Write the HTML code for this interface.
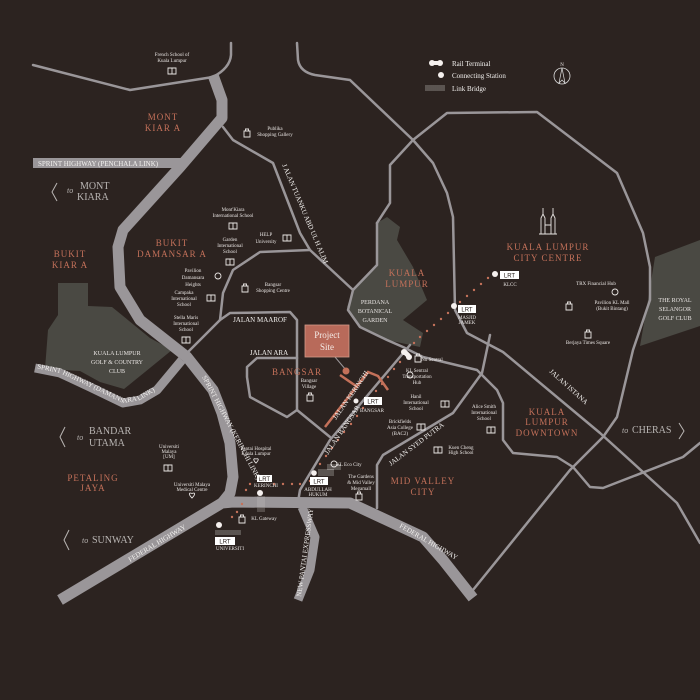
<!DOCTYPE html>
<html><head><meta charset="utf-8"><style>
html,body{margin:0;padding:0;background:#2c2320;}
svg{display:block}
.s{font-family:"Liberation Serif",serif;fill:#e8e4e2;font-size:5px;text-anchor:middle}
.o{font-family:"Liberation Serif",serif;fill:#c4715a;font-size:9px;letter-spacing:1px;text-anchor:middle}
.w{font-family:"Liberation Serif",serif;fill:#f2f0ee;font-size:7px}
.g{font-family:"Liberation Serif",serif;fill:#b9b5b3;font-size:10px}
.r{fill:none;stroke:#9a9699;stroke-width:2.5;stroke-linejoin:round;stroke-linecap:round}
.h{fill:none;stroke:#9a9699;stroke-linejoin:round}
.ic{fill:none;stroke:#e8e4e2;stroke-width:0.9}
.dot{fill:#c4715a}
</style></head><body>
<svg width="700" height="700" viewBox="0 0 700 700" xmlns="http://www.w3.org/2000/svg">
<rect width="700" height="700" fill="#2c2320"/>
<polygon points="58,283 88,283 88,306 112,307 150,338 172,350 145,372 124,389 100,382 80,371 45,369 48,330 58,315" fill="#4a4943"/>
<polygon points="387,217 400,227 397,240 413,267 427,300 403,320 423,333 420,347 387,340 360,327 347,307 353,290 377,267 377,223" fill="#4a4943"/>
<polygon points="655,257 700,240 700,326 640,346 648,300" fill="#4a4943"/>
<path class="r" d="M33,65 L130,90 L213,77 Q230,68 231,55 L231,43"/>
<path class="r" d="M297,43 L298,60 Q300,72 315,75 L350,80 L413,140 L433,163 L447,193 L453,217 L455,310 L467,333 L503,352 L600,433 L677,503 L700,543"/>
<path class="r" d="M223,127 L233,140 L273,163 L300,233 L310,250 L353,290"/>
<path class="r" d="M377,223 L390,203 L390,165 L413,140 L447,113 L537,112 L617,173 L643,233 L650,267 L650,300 L633,350 L617,417 L603,437 L570,470 L473,590"/>
<path class="r" d="M377,223 L377,265 L353,290 L348,310 L360,327 L387,340 L403,347 L423,357 L477,370 L497,390 L503,403 L503,440 L513,453 L557,457 L573,467 L590,487 L603,488 L683,457 L700,443"/>
<path class="r" d="M310,250 L260,252 L233,270 L223,293 L220,320"/>
<path class="r" d="M185,355 L220,320 L230,313 L290,312 L297,320 L297,410"/>
<path class="r" d="M247,377 L247,367 L257,358 L297,358 M247,377 L250,397 L287,417 L297,410 L330,437"/>
<path class="r" d="M410,345 L330,440 L300,490 L298,502"/>
<path class="r" d="M377,508 L377,465 L383,455 L453,413 L482,373 L490,335"/>
<path class="h" stroke-width="11" d="M213,75 L222,100 L222,118 L180,167 L123,230 L118,247 L120,287 L140,320 L187,357 L213,390 L222,413 L230,443 L233,477 L230,493 L222,503"/>
<path class="h" stroke-width="11" d="M60,600 L222,503 L233,502 L350,503 L423,537 L443,560 L473,598"/>
<path class="h" stroke-width="9" d="M302,507 L315,537 L310,570 L298,600"/>
<path class="h" stroke-width="9" id="dl" d="M35,368 L60,373 L90,387 L123,403 L140,400 L157,390 L182,360"/>
<rect x="33" y="158" width="150" height="10" fill="#9a9699"/>
<path d="M340,375 L356,386 M325,427 L368,372 L378,376 L388,390" fill="none" stroke="#c4715a" stroke-width="2.5"/>
<line x1="335" y1="357" x2="346" y2="370" stroke="#9a9699" stroke-width="1"/>
<circle cx="346" cy="371" r="3.5" fill="#c4715a"/>
<rect x="305" y="325" width="44" height="32" fill="#b86a5a" stroke="#d49a88" stroke-width="0.8"/>
<text x="327" y="338" font-family="Liberation Serif,serif" font-size="9" fill="#f4ebe6" text-anchor="middle">Project</text>
<text x="327" y="350" font-family="Liberation Serif,serif" font-size="9" fill="#f4ebe6" text-anchor="middle">Site</text>
<g class="dot">
<circle cx="488" cy="278" r="1.2"/><circle cx="481" cy="284" r="1.2"/><circle cx="474" cy="290" r="1.2"/><circle cx="467" cy="296" r="1.2"/><circle cx="460" cy="302" r="1.2"/>
<circle cx="448" cy="313" r="1.2"/><circle cx="441" cy="319" r="1.2"/><circle cx="434" cy="325" r="1.2"/><circle cx="427" cy="331" r="1.2"/><circle cx="420" cy="337" r="1.2"/><circle cx="414" cy="343" r="1.2"/>
<circle cx="400" cy="362" r="1.2"/><circle cx="394" cy="369" r="1.2"/><circle cx="388" cy="377" r="1.2"/><circle cx="382" cy="384" r="1.2"/><circle cx="376" cy="391" r="1.2"/>
<circle cx="363" cy="408" r="1.2"/><circle cx="357" cy="416" r="1.2"/><circle cx="351" cy="424" r="1.2"/><circle cx="344" cy="432" r="1.2"/><circle cx="338" cy="440" r="1.2"/><circle cx="332" cy="448" r="1.2"/><circle cx="326" cy="456" r="1.2"/><circle cx="320" cy="464" r="1.2"/>
<circle cx="310" cy="481" r="1.2"/><circle cx="300" cy="484" r="1.2"/><circle cx="292" cy="484" r="1.2"/><circle cx="283" cy="484" r="1.2"/><circle cx="274" cy="484" r="1.2"/>
<circle cx="250" cy="484" r="1.2"/><circle cx="246" cy="490" r="1.2"/><circle cx="242" cy="504" r="1.2"/><circle cx="237" cy="512" r="1.2"/><circle cx="232" cy="517" r="1.2"/>
</g>
<g fill="#f5f0ee">
<circle cx="495" cy="274" r="3"/><circle cx="454" cy="306" r="3"/><circle cx="356" cy="401" r="2.5"/><circle cx="314" cy="473" r="2.8"/><circle cx="260" cy="493" r="3"/><circle cx="219" cy="525" r="3"/>
<circle cx="404" cy="352" r="3"/><circle cx="409" cy="357" r="3"/><rect x="404" y="351" width="5" height="5" transform="rotate(45 406 354)"/>
</g>
<g stroke="#c9c5c4" stroke-width="0.6">
<path d="M257,497h8M257,499h8M257,501h8M257,503h8M257,505h8M257,507h8M257,509h8M257,511h8"/>
<path d="M319,469v7M321,469v7M323,469v7M325,469v7M327,469v7M329,469v7M331,469v7M333,469v7"/>
<path d="M216,530v5M218,530v5M220,530v5M222,530v5M224,530v5M226,530v5M228,530v5M230,530v5M232,530v5M234,530v5M236,530v5M238,530v5M240,530v5"/>
<path d="M328,464v6M330,464v6M332,464v6M334,464v6M336,464v6M338,464v6M340,464v6"/>
<path d="M426,85v6M428,85v6M430,85v6M432,85v6M434,85v6M436,85v6M438,85v6M440,85v6M442,85v6M444,85v6"/>
</g>
<g font-family="Liberation Sans,sans-serif" font-size="6" fill="#2c2320" text-anchor="middle">
<rect x="500" y="271" width="19" height="8" fill="#fff"/><text x="509.5" y="277.5">LRT</text>
<rect x="458" y="305" width="18" height="8" fill="#fff"/><text x="467" y="311.5">LRT</text>
<rect x="364" y="397" width="18" height="8" fill="#fff"/><text x="373" y="403.5">LRT</text>
<rect x="310" y="477" width="18" height="8" fill="#fff"/><text x="319" y="483.5">LRT</text>
<rect x="257" y="475" width="15" height="7" fill="#fff"/><text x="264.5" y="481">LRT</text>
<rect x="215" y="537" width="20" height="8" fill="#fff"/><text x="225" y="543.5">LRT</text>
</g>
<g class="s" font-size="4.5">
<text x="510" y="286">KLCC</text><text x="467" y="319">MASJID</text><text x="467" y="324">JAMEK</text>
<text x="372" y="412">BANGSAR</text><text x="318" y="491">ABDULLAH</text><text x="318" y="496">HUKUM</text>
<text x="266" y="487">KERINCHI</text><text x="230" y="550">UNIVERSITI</text>
</g>
<circle cx="432" cy="63" r="3" fill="#f5f0ee"/><circle cx="440" cy="63" r="3" fill="#f5f0ee"/><rect x="432" y="61" width="8" height="4" fill="#f5f0ee"/>
<circle cx="441" cy="75" r="3" fill="#f5f0ee"/>
<g class="w" font-size="7.5"><text x="452" y="66">Rail Terminal</text><text x="452" y="78">Connecting Station</text><text x="452" y="91">Link Bridge</text></g>
<circle cx="562" cy="76" r="8" fill="none" stroke="#ddd" stroke-width="0.8"/>
<path d="M562,68 L559,83 L562,80 L565,83Z" fill="none" stroke="#ddd" stroke-width="0.7"/>
<text x="562" y="66" class="s" font-size="5.5">N</text>
<g class="ic" stroke-width="0.8"><path d="M541,234 L541,218 L543,214 L545,218 L545,234 M551,234 L551,218 L553,214 L555,218 L555,234 M543,214 L543,208 M553,214 L553,208 M545,225 L551,225 M539,234 L557,234"/></g>
<g class="o">
<text x="163" y="120">MONT</text><text x="163" y="131">KIAR A</text>
<text x="70" y="257">BUKIT</text><text x="70" y="268">KIAR A</text>
<text x="172" y="246">BUKIT</text><text x="172" y="257">DAMANSAR A</text>
<text x="297" y="375">BANGSAR</text>
<text x="407" y="276">KUALA</text><text x="407" y="287">LUMPUR</text>
<text x="548" y="250">KUALA  LUMPUR</text><text x="548" y="261">CITY CENTRE</text>
<text x="547" y="415">KUALA</text><text x="547" y="425">LUMPUR</text><text x="547" y="436">DOWNTOWN</text>
<text x="423" y="484">MID VALLEY</text><text x="423" y="495">CITY</text>
<text x="93" y="481">PETALING</text><text x="93" y="491">JAYA</text>
</g>
<g class="g">
<text x="80" y="189">MONT</text><text x="77" y="200">KIARA</text><text x="67" y="193" font-style="italic" font-size="8">to</text>
<text x="89" y="434">BANDAR</text><text x="89" y="446">UTAMA</text><text x="77" y="440" font-style="italic" font-size="8">to</text>
<text x="92" y="543">SUNWAY</text><text x="82" y="543" font-style="italic" font-size="8">to</text>
<text x="622" y="433" font-style="italic" font-size="8">to</text><text x="632" y="433">CHERAS</text>
</g>
<g fill="none" stroke="#b9b5b3" stroke-width="1"><path d="M57,183 L52,192 L57,201 M65,427 L60,437 L65,447 M69,530 L64,540 L69,550 M679,423 L684,431 L679,439"/></g>
<text x="38" y="166" class="w" font-size="6.5">SPRINT HIGHWAY (PENCHALA LINK)</text>
<text x="260" y="322" class="w" text-anchor="middle">JALAN MAAROF</text>
<text x="269" y="355" class="w" text-anchor="middle">JALAN ARA</text>
<text class="w" font-size="5.5" transform="translate(282,165) rotate(67)">J ALAN TUANKU ABD UL H ALIM</text>
<text class="w" font-size="5.5" transform="translate(549,372) rotate(42)">JALAN ISTANA</text>
<text class="w" font-size="5.5" transform="translate(336,420) rotate(-55)">JALAN KERINCHI</text>
<text class="w" font-size="5.5" transform="translate(328,455) rotate(-56)">JALAN BANGSAR</text>
<text class="w" font-size="5.5" transform="translate(391,466) rotate(-37)">JALAN SYED PUTRA</text>
<text class="w" font-size="5" transform="translate(130,562) rotate(-31)">FEDERAL HIGHWAY</text>
<text class="w" font-size="5" transform="translate(399,527) rotate(30)">FEDERAL HIGHWAY</text>
<text class="w" font-size="4.5" transform="translate(301,597) rotate(-82)">NEW PANTAI EXPRESSWAY</text>
<text class="w" font-size="5" transform="translate(202,377) rotate(62)">SPRINT HIGHWAY (KERINCHI LINK)</text>
<text class="w" font-size="5"><textPath href="#dl" startOffset="2">SPRINT HIGHWAY (DAMANSARA LINK)</textPath></text>
<g class="s">
<text x="172" y="56">French School of</text><text x="172" y="62">Kuala Lumpur</text>
<text x="275" y="130">Publika</text><text x="275" y="136">Shopping Gallery</text>
<text x="233" y="211">Mont'Kiara</text><text x="233" y="217">International School</text>
<text x="266" y="236">HELP</text><text x="266" y="243">University</text>
<text x="230" y="241">Garden</text><text x="230" y="247">International</text><text x="230" y="253">School</text>
<text x="193" y="272">Pavilion</text><text x="193" y="279">Damansara</text><text x="193" y="286">Heights</text>
<text x="273" y="286">Bangsar</text><text x="273" y="292">Shopping Centre</text>
<text x="184" y="294">Campaka</text><text x="184" y="300">International</text><text x="184" y="306">School</text>
<text x="186" y="319">Stella Maris</text><text x="186" y="325">International</text><text x="186" y="331">School</text>
<text x="309" y="382">Bangsar</text><text x="309" y="388">Village</text>
<text x="117" y="355" font-size="6">KUALA LUMPUR</text><text x="117" y="364" font-size="6">GOLF &amp; COUNTRY</text><text x="117" y="373" font-size="6">CLUB</text>
<text x="375" y="304" font-size="6">PERDANA</text><text x="375" y="313" font-size="6">BOTANICAL</text><text x="375" y="322" font-size="6">GARDEN</text>
<text x="596" y="285">TRX Financial Hub</text>
<text x="612" y="304">Pavilion KL Mall</text><text x="612" y="310">(Bukit Bintang)</text>
<text x="588" y="344">Berjaya Times Square</text>
<text x="675" y="302" font-size="6">THE ROYAL</text><text x="675" y="311" font-size="6">SELANGOR</text><text x="675" y="320" font-size="6">GOLF CLUB</text>
<text x="432" y="361">Nu Sentral</text>
<text x="417" y="372">KL Sentral</text><text x="417" y="378">Transportation</text><text x="417" y="384">Hub</text>
<text x="416" y="398">Hanil</text><text x="416" y="404">International</text><text x="416" y="410">School</text>
<text x="484" y="408">Alice Smith</text><text x="484" y="414">International</text><text x="484" y="420">School</text>
<text x="400" y="423">Brickfields</text><text x="400" y="429">Asia College</text><text x="400" y="435">(BAC2)</text>
<text x="461" y="449">Kuen Cheng</text><text x="461" y="454">High School</text>
<text x="349" y="466">KL Eco City</text>
<text x="361" y="478">The Gardens</text><text x="361" y="484">&amp; Mid Valley</text><text x="361" y="490">Megamall</text>
<text x="256" y="450">Pantai Hospital</text><text x="256" y="455">Kuala Lumpur</text>
<text x="264" y="520">KL Gateway</text>
<text x="169" y="448">Universiti</text><text x="169" y="453">Malaya</text><text x="169" y="458">[UM]</text>
<text x="192" y="486">Universiti Malaya</text><text x="192" y="491">Medical Centre</text>
</g>
<g class="ic">
<path d="M168,68 h8 v6 h-8z M172,68 v6"/><path d="M229,223 h8 v6 h-8z M233,223 v6"/><path d="M283,235 h8 v6 h-8z M287,235 v6"/>
<path d="M226,259 h8 v6 h-8z M230,259 v6"/><path d="M207,295 h8 v6 h-8z M211,295 v6"/><path d="M182,337 h8 v6 h-8z M186,337 v6"/>
<path d="M441,401 h8 v6 h-8z M445,401 v6"/><path d="M487,427 h8 v6 h-8z M491,427 v6"/><path d="M417,424 h8 v6 h-8z M421,424 v6"/>
<path d="M434,447 h8 v6 h-8z M438,447 v6"/><path d="M164,465 h8 v6 h-8z M168,465 v6"/>
</g>
<g class="ic">
<path d="M244,131h6v6h-6z M245.5,131v-2h3v2"/><path d="M242,286h6v6h-6z M243.5,286v-2h3v2"/><path d="M307,395h6v6h-6z M308.5,395v-2h3v2"/>
<path d="M566,304h6v6h-6z M567.5,304v-2h3v2"/><path d="M585,332h6v6h-6z M586.5,332v-2h3v2"/><path d="M415,356h6v6h-6z M416.5,356v-2h3v2"/>
<path d="M356,494h6v6h-6z M357.5,494v-2h3v2"/><path d="M239,517h6v6h-6z M240.5,517v-2h3v2"/>
</g>
<g class="ic"><circle cx="218" cy="276" r="3"/><circle cx="615" cy="292" r="3"/><circle cx="410" cy="375" r="3"/><circle cx="334" cy="464" r="3"/></g>
<g class="ic"><path d="M256,463 c-3,-3 -3,-5 0,-4 c3,-1 3,1 0,4z"/><path d="M192,498 c-3.5,-3.5 -3.5,-6 0,-4.5 c3.5,-1.5 3.5,1 0,4.5z"/></g>
</svg>
</body></html>
